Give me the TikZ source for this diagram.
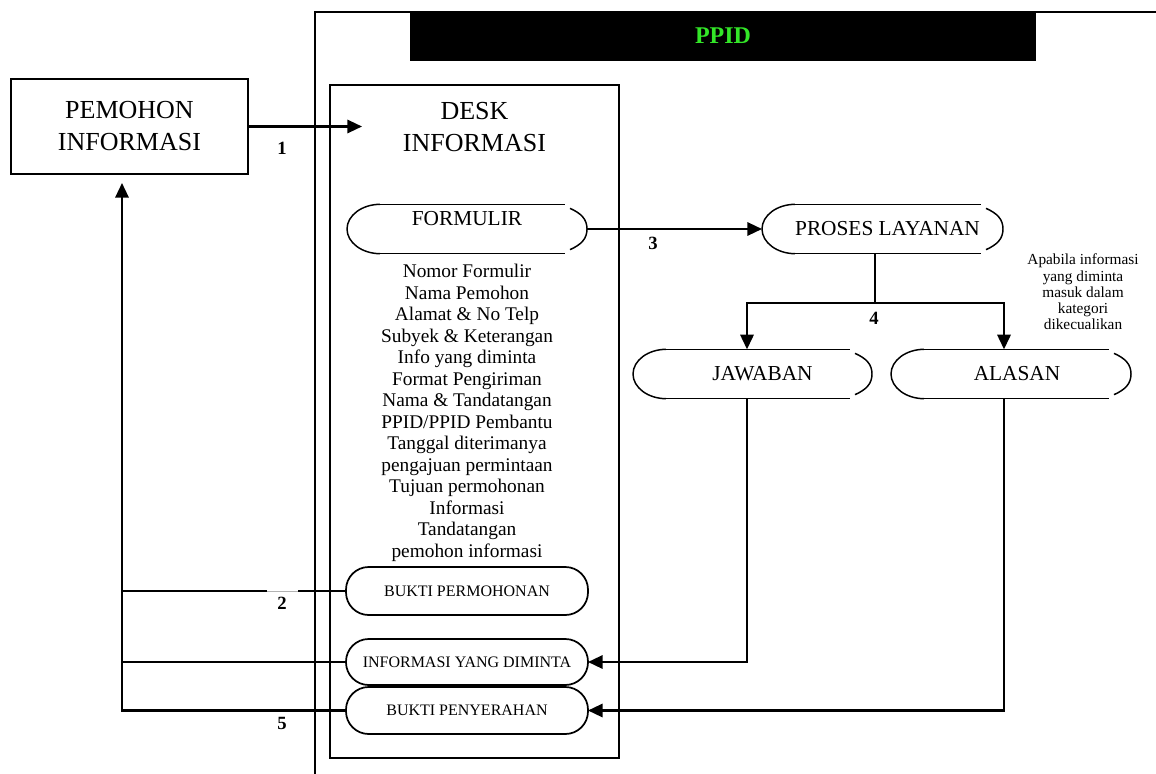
\documentclass[tikz,border=0pt]{standalone}
\usepackage{fontspec}
\setmainfont{Liberation Serif}
\usetikzlibrary{arrows.meta,calc}
\definecolor{ppidgreen}{RGB}{51,230,40}
\newcommand\openoval[1]{%
  \draw[ovalline] ($(#1.north west)+(33,0)$) -- ($(#1.north east)+(-22,0)$);
  \draw[ovalline] ($(#1.south west)+(33,0)$) -- ($(#1.south east)+(-22,0)$);
  \draw[ovalline] ($(#1.north west)+(33,0)$) .. controls ($(#1.north west)+(15,0)$) and ($(#1.west)+(0,-13.5)$) .. (#1.west) .. controls ($(#1.west)+(0,13.5)$) and ($(#1.south west)+(15,0)$) .. ($(#1.south west)+(33,0)$);
  \draw[ovalline] ($(#1.north east)+(-17,4)$) .. controls ($(#1.north east)+(-6,9)$) and ($(#1.east)+(0,-10)$) .. (#1.east) .. controls ($(#1.east)+(0,10)$) and ($(#1.south east)+(-6,-9)$) .. ($(#1.south east)+(-17,-4)$);
}
\begin{document}
\begin{tikzpicture}[x=0.75pt,y=-0.75pt,
  frame/.style={line width=1.5pt},
  conn/.style={line width=1.7pt},
  arr/.style={conn,-{Triangle[length=11pt,width=10pt]}},
  ovalline/.style={line width=1.1pt},
  ovalnode/.style={inner sep=0pt, outer sep=0pt, minimum height=37pt, font=\fontsize{16}{19}\selectfont},
  bukti/.style={draw, rounded corners=17pt, line width=1.3pt, minimum width=181.5pt, inner sep=0pt, outer sep=0pt, font=\fontsize{12}{14}\selectfont},
  bigtext/.style={align=center, font=\fontsize{19.5}{24}\selectfont},
  num/.style={font=\fontsize{14}{16}\selectfont\bfseries, inner sep=0pt},
]
\useasboundingbox (0,0) rectangle (1156,774);
\fill[white] (0,0) rectangle (1156,774);
% PPID frame
\draw[frame] (1156,12) -- (315,12) -- (315,774);
\node[fill=black, minimum width=469.5pt, minimum height=37.5pt, inner sep=0pt, text=ppidgreen, font=\fontsize{18}{21}\selectfont\bfseries] (ppid) at (723,36) {PPID};
% applicant
\node[draw, frame, minimum width=177.75pt, minimum height=71.25pt, inner sep=0pt, bigtext] (pem) at (129.5,126.5) {PEMOHON\\INFORMASI};
% desk
\node[draw, frame, minimum width=216.75pt, minimum height=504.75pt, inner sep=0pt] (desk) at (474.5,421.5) {};
\node[bigtext, inner sep=0pt] (desktitle) at (474.5,127) {DESK\\INFORMASI};
\node[ovalnode, minimum width=180pt, text depth=16pt] (form) at (467,229) {FORMULIR};
\openoval{form}
\node[align=center, inner sep=0pt, font=\fontsize{14.5}{16.125}\selectfont] (list) at (467,413) {Nomor Formulir\\Nama Pemohon\\Alamat \& No Telp\\Subyek \& Keterangan\\Info yang diminta\\Format Pengiriman\\Nama \& Tandatangan\\PPID/PPID Pembantu\\Tanggal diterimanya\\pengajuan permintaan\\Tujuan permohonan\\Informasi\\Tandatangan\\pemohon informasi};
\node[bukti, minimum height=36pt] (bpm) at (467,591) {BUKTI PERMOHONAN};
\node[bukti, minimum height=34.5pt] (inf) at (467,662) {INFORMASI YANG DIMINTA};
\node[bukti, minimum height=35.25pt] (bpy) at (467,710.5) {BUKTI PENYERAHAN};
% process
\node[ovalnode, minimum width=180.75pt] (proses) at (882.5,229) {\hspace*{7.5pt}PROSES LAYANAN};
\openoval{proses}
\node[ovalnode, minimum width=179.25pt] (jaw) at (752.5,374) {\hspace*{15pt}JAWABAN};
\openoval{jaw}
\node[ovalnode, minimum width=180pt] (ala) at (1011,374) {\hspace*{9pt}ALASAN};
\openoval{ala}
\node[align=center, inner sep=0pt, font=\fontsize{11.5}{12.2}\selectfont] (note) at (1083,292) {Apabila informasi\\yang diminta\\masuk dalam\\kategori\\dikecualikan};
% connectors
\coordinate (t1) at (362,126.5);
\draw[arr] (pem.east) -- (t1);
\node[num] (n1) at (282,148) {1};
\draw[arr] (form.east) -- (proses.west);
\node[num] (n3) at (653,243) {3};
\coordinate (j4) at (875,303);
\coordinate (cj) at (747,303);
\coordinate (ca) at (1004,303);
\draw[conn] (j4 |- proses.south) -- (j4);
\draw[arr] (j4) -| (cj |- jaw.north);
\draw[arr] (j4) -| (ca |- ala.north);
\node[num] (n4) at (874,318) {4};
\draw[arr] (cj |- jaw.south) |- (inf.east);
\draw[arr] (ca |- ala.south) |- (bpy.east);
% return lines
\coordinate (tr) at (122,0);
\draw[arr, shorten >=6pt] (bpy.west) -| (tr |- pem.south);
\draw[conn] (inf.west) -- (inf.west -| tr);
\coordinate (g1) at (298,591);
\coordinate (g2) at (267,591);
\draw[conn] (bpm.west) -- (g1);
\draw[line width=0.6pt, gray!60] (g1) -- (g2);
\draw[conn] (g2) -- (bpm.west -| tr);
\node[num] (n2) at (282,603) {2};
\node[num] (n5) at (282,723) {5};
\end{tikzpicture}
\end{document}
